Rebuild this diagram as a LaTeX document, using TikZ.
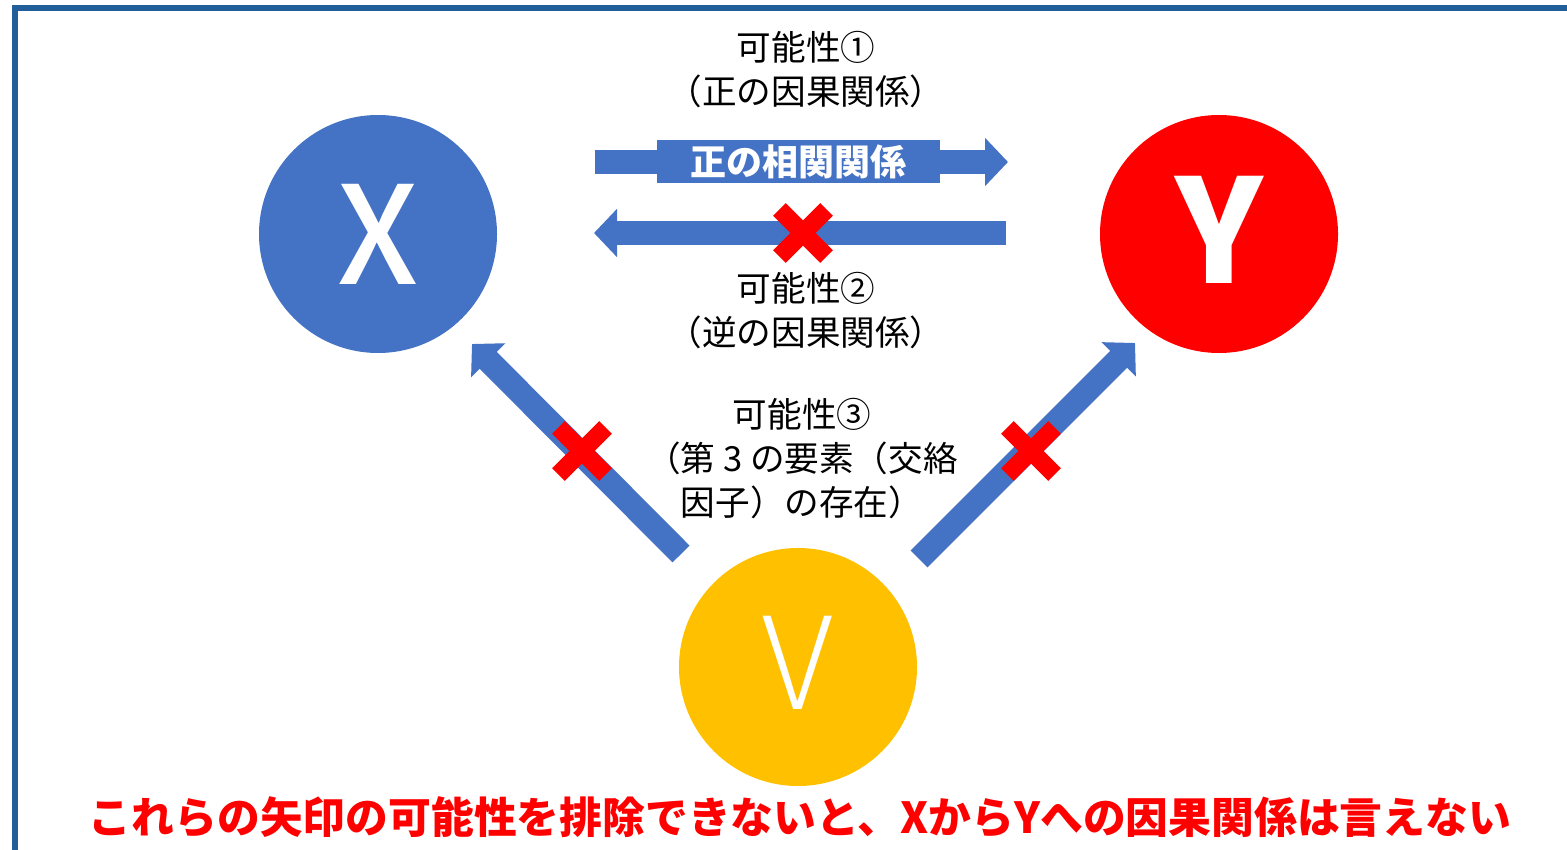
\documentclass[tikz,border=0pt]{standalone}
\usepackage{fontspec}
\setmainfont{Noto Sans CJK JP}
\newfontfamily\thinfont{Noto Sans CJK JP Light}
\newfontfamily\medfont{Noto Sans CJK JP Medium}
\usetikzlibrary{arrows.meta}
\definecolor{xblue}{RGB}{68,114,196}
\definecolor{vgold}{RGB}{255,192,0}
\definecolor{frameblue}{RGB}{34,94,154}
\tikzset{nocross/.pic={
    \draw[line width=9pt, red] (-23.6,-23.6) -- (23.6,23.6);
    \draw[line width=9pt, red] (-23.6,23.6) -- (23.6,-23.6);
}}

\begin{document}
\begin{tikzpicture}[x=0.5pt, y=-0.5pt,
    main/.style = {circle, minimum size=119pt, inner sep=0pt, text=white},
    blk/.style = {line width=12pt, xblue, -{Triangle[width=23.5pt, length=11.5pt]}},
    lbl/.style = {align=center, font=\fontsize{17.3}{22}\selectfont}]
    \useasboundingbox (0,0) rectangle (1567,850);

    % Frame
    \fill[frameblue] (12,5) rectangle (1567,11);
    \fill[frameblue] (12,5) rectangle (18,850);

    % Nodes
    \node[main, fill=xblue] (X) at (378,234) {\medfont\fontsize{68}{68}\selectfont X};
    \node[main, fill=red] (Y) at (1219,234) {\fontsize{72}{72}\selectfont\bfseries\raisebox{4pt}{Y}};
    \node[main, fill=vgold] (V) at (798,667) {\thinfont\fontsize{64}{64}\selectfont\raisebox{4pt}{V}};

    \coordinate (t1) at (595,162);
    \coordinate (h1) at (1008,162);
    \coordinate (t2) at (1006,233);
    \coordinate (h2) at (594,233);
    \coordinate (t3) at (681,554);
    \coordinate (h3) at (472,344);
    \coordinate (t4) at (919,559);
    \coordinate (h4) at (1135,343);

    % Lines
    \draw[blk] (t1) -- (h1);
    \draw[blk] (t2) -- (h2);
    \draw[blk] (t3) -- (h3);
    \draw[blk] (t4) -- (h4);

    \node[fill=xblue, text=white, minimum width=141.5pt, minimum height=21.5pt, inner sep=0pt,
        font=\fontsize{18}{18}\selectfont\bfseries] (corr) at (798.5,161.5) {正の相関関係};

    \pic at (803,233) {nocross};
    \pic at (582,451) {nocross};
    \pic at (1031,451) {nocross};

    % Labels
    \node[lbl] (p1) at (806,70) {可能性①\\（正の因果関係）};
    \node[lbl] (p2) at (806,311) {可能性②\\（逆の因果関係）};
    \node[lbl] (p3) at (802,459) {可能性③\\（第 3 の要素（交絡\\因子）の存在）};

    \node[text=red, font=\fontsize{21.4}{22}\selectfont\bfseries] (msg) at (800,817)
        {これらの矢印の可能性を排除できないと、XからYへの因果関係は言えない};
\end{tikzpicture}
\end{document}
